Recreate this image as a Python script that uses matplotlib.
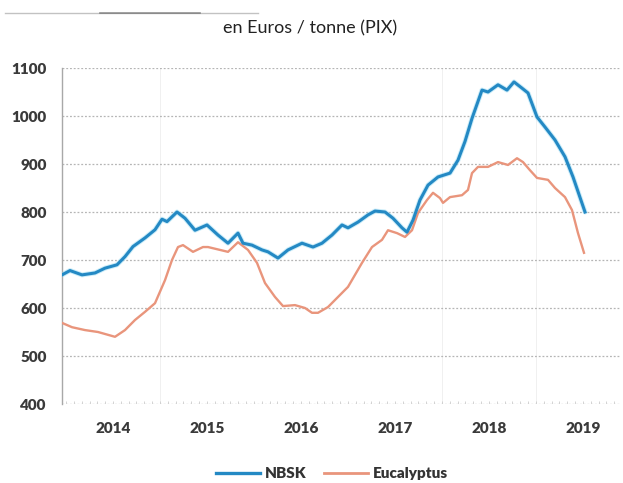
import matplotlib
matplotlib.use("Agg")
import matplotlib.pyplot as plt
from matplotlib.lines import Line2D
import numpy as np

# ---- data (fractional year, EUR/tonne) ----
nbsk_px = [62, 70, 82, 95, 105, 117, 125, 133, 145, 155, 162, 167, 177, 185, 195, 207, 218, 228,
           238, 243, 252, 262, 268, 278, 288, 302, 313, 322, 332, 342, 348, 358, 368, 375, 385,
           393, 402, 407, 413, 420, 428, 438, 450, 458, 465, 472, 482, 488, 498, 507, 514, 522,
           528, 537, 545, 555, 565, 573, 585]
nbsk_values = [669, 678, 669, 673, 683, 690, 707, 728, 746, 763, 785, 780, 800, 787, 762, 773, 752, 735,
               756, 735, 731, 721, 717, 704, 721, 735, 727, 735, 752, 773, 767, 779, 794, 802, 800,
               787, 767, 758, 783, 825, 856, 873, 881, 908, 947, 995, 1054, 1050, 1065, 1054, 1071, 1058,
               1048, 998, 977, 950, 915, 873, 800]

euca_px = [62, 72, 85, 98, 115, 125, 135, 145, 155, 165, 172, 178, 183, 193, 203, 208, 228, 238,
           248, 257, 265, 275, 283, 295, 305, 312, 318, 328, 338, 348, 362, 372, 382, 388, 397,
           405, 412, 418, 427, 433, 440, 443, 450, 462, 468, 472, 478, 488, 498, 508, 517, 523,
           530, 537, 548, 555, 565, 572, 578, 584]
euca_values = [569, 560, 554, 550, 540, 554, 575, 592, 610, 658, 700, 727, 731, 717, 727, 727, 717, 737,
               721, 694, 652, 623, 604, 606, 600, 590, 590, 602, 623, 644, 694, 727, 742, 762, 756,
               748, 762, 798, 825, 840, 829, 819, 831, 835, 846, 881, 894, 894, 904, 898, 912, 904,
               887, 871, 867, 850, 831, 804, 756, 715]

nbsk_dates = [2014 + (p - 66) / 94.0 for p in nbsk_px]
euca_dates = [2014 + (p - 66) / 94.0 for p in euca_px]

years = [2014, 2015, 2016, 2017, 2018, 2019]
year_labels = ["2014", "2015", "2016", "2017", "2018", "2019"]
y_ticks = [400, 500, 600, 700, 800, 900, 1000, 1100]

title = "en Euros / tonne (PIX)"
series_names = ["NBSK", "Eucalyptus"]

plt.rcParams['font.family'] = ['Lato', 'DejaVu Sans']

W, H = 623, 483
fig = plt.figure(figsize=(W / 100, H / 100), dpi=100)
ax = fig.add_axes([62 / W, 1 - 404 / H, (621 - 62) / W, (404 - 68) / H])

c_nbsk = "#2489c4"
c_euca = "#e9957c"

ax.plot(nbsk_dates, nbsk_values, color="#8fd8f2", lw=3.6, alpha=0.45, solid_capstyle="round", zorder=3)
ax.plot(nbsk_dates, nbsk_values, color=c_nbsk, lw=2.2, solid_joinstyle="round", zorder=4, label=series_names[0])
ax.plot(euca_dates, euca_values, color=c_euca, lw=1.7, solid_joinstyle="round", zorder=3, label=series_names[1])

ax.set_xlim(2014 + (62 - 66) / 94.0, 2014 + (621 - 66) / 94.0)
ax.set_ylim(400, 1100)

ax.set_yticks(y_ticks)
ax.set_yticklabels([str(v) for v in y_ticks], fontsize=11, fontweight="heavy", color="#3a3a3a")
ax.set_xticks([y + 0.5 for y in years])
ax.set_xticklabels(year_labels, fontsize=11, fontweight="heavy", color="#3a3a3a")
ax.tick_params(axis="y", length=0, pad=11)
ax.tick_params(axis="x", length=0, pad=13)

for v in y_ticks:
    ax.axhline(v, color="#b5b5b5", lw=0.9, ls=(0, (1.5, 1.5)), zorder=1)
# monthly minor ticks on bottom
months = np.arange(2014, 2019.95, 1 / 12)
ax.vlines(months, 400, 406, color="#cccccc", lw=0.6, zorder=1)
for y in [2015, 2018, 2019]:
    ax.axvline(y, color="#f0f0f0", lw=0.7, zorder=0)

for s in ["top", "right", "bottom"]:
    ax.spines[s].set_visible(False)
ax.spines["left"].set_color("#a8a8a8")
ax.spines["left"].set_linewidth(1.0)

fig.text(310 / W, 1 - 28 / H, title, ha="center", va="center", fontsize=13, color="#222222")

# decorative scan header line
fig.add_artist(Line2D([5 / W, 258 / W], [1 - 13 / H, 1 - 13 / H], color="#9a9a9a", lw=1.0, alpha=0.6))
fig.add_artist(Line2D([100 / W, 200 / W], [1 - 13 / H, 1 - 13 / H], color="#555555", lw=1.2, alpha=0.6))

leg = fig.legend(handles=[Line2D([], [], color=c_nbsk, lw=2.4), Line2D([], [], color=c_euca, lw=2.0)],
                 labels=series_names, loc="center", bbox_to_anchor=(332 / W, 1 - 474 / H),
                 ncol=2, frameon=False, handlelength=2.9, columnspacing=1.1, handletextpad=0.35,
                 prop={"weight": "heavy", "size": 11})
for t in leg.get_texts():
    t.set_color("#333333")

fig.savefig("out.png", dpi=100)
